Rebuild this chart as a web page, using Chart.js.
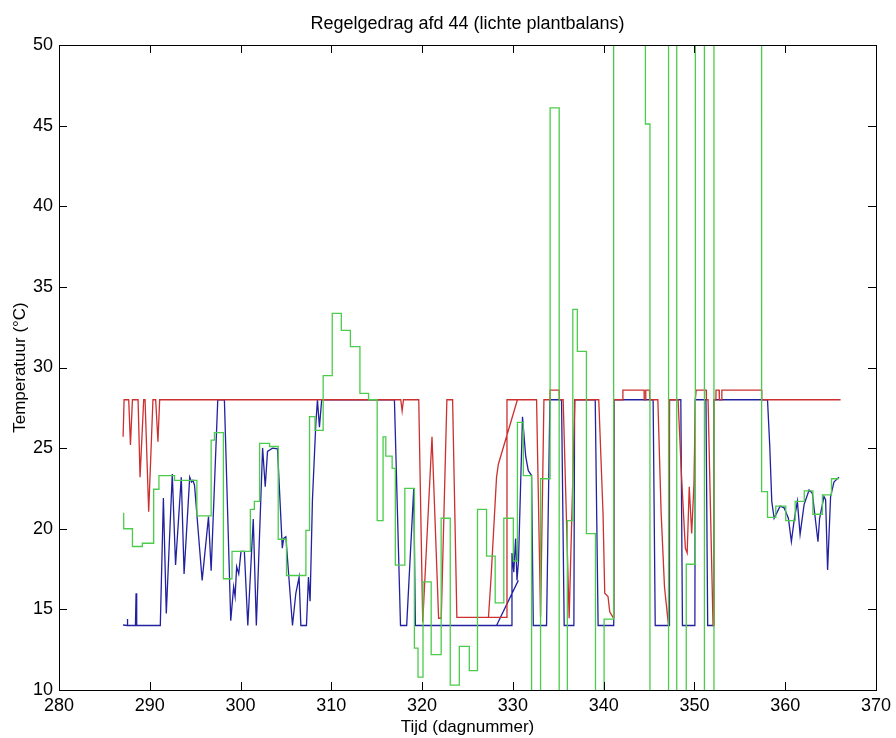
<!DOCTYPE html>
<html>
<head>
<meta charset="utf-8">
<script src="https://cdn.jsdelivr.net/npm/chart.js@4.4.1/dist/chart.umd.min.js"></script>
<style>
html, body { margin: 0; padding: 0; background: #fff; }
#wrap { width: 896px; height: 738px; }
</style>
</head>
<body>
<div id="wrap"><canvas id="regelChart" width="896" height="738"></canvas></div>
<script>
// values (day number, degrees C)
const TITLE = 'Regelgedrag afd 44 (lichte plantbalans)';
const X_TICKS = [280, 290, 300, 310, 320, 330, 340, 350, 360, 370];
const Y_TICKS = [10, 15, 20, 25, 30, 35, 40, 45, 50];

// green: step series (value holds until next day)
const greenDays = [
    287.06, 287.13, 288.09, 289.18, 290.43, 291.01, 292.73, 295.19, 296.76, 297.12,
    298.11, 299.06, 301.08, 301.52, 302.10, 303.20, 304.15, 305.06, 307.20, 307.60,
    308.20, 309.10, 310.10, 311.10, 312.10, 313.15, 314.10, 315.05, 315.70, 316.00,
    316.70, 317.05, 318.10, 319.15, 319.55, 320.10, 321.00, 322.10, 323.10, 324.10,
    325.20, 326.10, 327.10, 328.05, 329.00, 330.05, 330.50, 331.15, 332.06, 333.05,
    334.10, 335.10, 336.00, 336.60, 337.10, 338.10, 339.10, 340.05, 341.10, 344.60,
    345.10, 347.15, 348.05, 349.10, 350.10, 351.10, 352.15, 357.40, 358.05, 358.96,
    360.06, 361.10, 362.10, 363.05, 364.10, 365.10, 365.90
];
const greenTemp = [
    20.95, 20.0, 18.9, 19.1, 22.45, 23.3, 23.0, 20.8, 25.5, 25.96,
    16.9, 18.6, 21.2, 21.7, 25.3, 25.1, 19.35, 17.1, 19.9, 26.95,
    26.1, 29.5, 33.36, 32.3, 31.3, 28.4, 28.0, 20.5, 25.7, 24.5,
    23.75, 17.75, 22.5, 12.6, 10.8, 16.7, 12.2, 20.65, 10.3, 12.7,
    11.2, 21.2, 18.3, 15.4, 20.65, 18.0, 26.6, 23.3, 5, 23.1,
    46.1, 5, 20.5, 33.6, 31.0, 19.7, 5, 14.4, 60, 45.1,
    5, 60, 5, 17.8, 60, 5, 60, 22.3, 20.7, 21.4,
    20.5, 21.7, 22.35, 20.9, 22.1, 23.1, 23.1
];

const redDays = [
    287.06, 287.17, 287.68, 287.87, 288.09, 288.71, 288.93, 289.33, 289.48, 289.88,
    290.35, 290.65, 290.90, 291.09, 317.65, 317.80, 317.95, 319.63, 320.07, 321.09,
    321.82, 322.11, 322.73, 323.36, 323.83, 329.30, 329.35, 332.61, 333.05, 333.42,
    334.08, 334.10, 335.10, 335.12, 335.54, 336.20, 336.83, 339.46, 339.93, 340.12,
    340.48, 340.67, 341.03, 341.12, 342.10, 342.12, 344.45, 344.47, 344.62, 344.64,
    345.05, 345.07, 345.97, 346.33, 346.70, 347.14, 347.25, 348.20, 348.60, 349.00,
    349.20, 349.43, 349.70, 349.95, 350.10, 350.17, 350.19, 351.30, 351.32, 351.50,
    352.05, 352.15, 352.37, 352.38, 352.72, 352.74, 353.00, 353.02, 357.40, 357.42,
    366.10, null, 327.31, 327.60, 327.90, 328.20, 328.40, 330.50
];
const redTemp = [
    25.7, 28, 28, 25.2, 28, 28, 23.2, 28, 28, 21.06,
    28, 28, 25.4, 28, 28, 27.3, 28, 28, 14.2, 25.7,
    14.45, 14.45, 28, 28, 14.5, 14.5, 28, 28, 14.55, 28,
    28, 28.6, 28.6, 28, 28, 14.45, 28, 28, 20.96, 16.0,
    15.8, 14.85, 14.5, 28, 28, 28.6, 28.6, 28, 28, 28.6,
    28.6, 28, 28, 21.0, 16.4, 14.0, 28, 28, 23.0, 18.8,
    18.5, 22.6, 19.7, 22.8, 28, 28, 28.6, 28.6, 28, 28,
    14.0, 28, 28, 28.6, 28.6, 28, 28, 28.6, 28.6, 28,
    28, null, 14.5, 17.0, 20.1, 23.2, 24.0, 28
];

const blueDays = [
    287.06, 287.52, 287.54, 287.56, 288.42, 288.49, 288.56, 291.16, 291.50, 291.82,
    292.48, 292.84, 293.47, 293.78, 294.40, 294.60, 294.75, 294.93, 295.77, 296.47,
    296.76, 297.49, 298.22, 298.92, 299.24, 299.40, 299.57, 299.80, 300.05, 300.42,
    300.80, 301.40, 301.74, 302.43, 302.72, 302.97, 303.52, 304.07, 304.60, 304.75,
    304.99, 305.72, 306.09, 306.45, 306.64, 307.26, 307.48, 307.66, 307.92, 308.29,
    308.47, 308.69, 308.94, 316.95, 317.62, 318.30, 319.08, 319.26, 329.87, 329.90,
    330.10, 330.30, 330.45, 330.62, 331.06, 331.41, 331.70, 332.06, 332.25, 333.71,
    334.08, 335.36, 335.65, 336.72, 336.80, 339.07, 339.39, 341.11, 341.15, 345.45,
    345.68, 347.20, 347.25, 348.50, 348.68, 350.05, 350.10, 351.27, 351.46, 352.05,
    352.12, 358.05, 358.30, 358.52, 358.78, 359.44, 359.88, 360.35, 360.68, 360.98,
    361.34, 361.64, 362.08, 362.63, 362.99, 363.61, 363.79, 364.27, 364.45, 364.67,
    365.00, 365.37, 365.92, null, 328.20, 330.60
];
const blueTemp = [
    14.03, 14.0, 14.4, 14.0, 14.0, 16.0, 14.0, 14.0, 21.9, 14.75,
    23.4, 17.75, 23.2, 17.2, 23.2, 22.9, 23.0, 22.7, 16.8, 20.75,
    17.4, 28, 28, 14.3, 16.4, 15.8, 17.65, 17.2, 18.6, 18.6,
    14.0, 20.6, 14.0, 25.0, 22.6, 24.8, 25.0, 24.95, 18.8, 19.4,
    19.5, 14.0, 16.0, 17.0, 14.0, 14.0, 17.0, 15.5, 21.8, 26.5,
    28, 26.3, 28, 28, 14, 14, 22.5, 14, 14, 18.5,
    17.3, 19.4, 16.8, 18.0, 26.95, 24.5, 23.6, 23.3, 14, 14,
    28, 28, 14, 14, 28, 28, 14, 14, 28, 28,
    14, 14, 28, 28, 14, 14, 28, 28, 14, 14,
    28, 28, 25.1, 21.7, 20.65, 21.4, 21.3, 20.65, 19.2, 20.5,
    21.7, 19.65, 21.5, 22.4, 22.2, 19.2, 20.65, 22.0, 21.8, 17.45,
    22.0, 22.9, 23.2, null, 14, 16.8
];

const TICK_LEN = 8;
const LINE_W = 1.3;
const FONT_FAMILY = "'Liberation Sans', Arial, sans-serif";

function toPoints(days, temps){
    return days.map((d, i) => ({x: d, y: temps[i]}));
}

// matlab style box with inward ticks on all four sides
const frameTicks = {
    id: 'frameTicks',
    afterDatasetsDraw(chart){
        const {ctx, chartArea: a, scales: {x, y}} = chart;
        ctx.save();
        ctx.strokeStyle = '#000';
        ctx.lineWidth = 1;
        ctx.beginPath();
        x.ticks.forEach(t => {
            const px = Math.round(x.getPixelForValue(t.value)) + 0.5;
            ctx.moveTo(px, a.bottom); ctx.lineTo(px, a.bottom - TICK_LEN);
            ctx.moveTo(px, a.top); ctx.lineTo(px, a.top + TICK_LEN);
        });
        y.ticks.forEach(t => {
            const py = Math.round(y.getPixelForValue(t.value)) + 0.5;
            ctx.moveTo(a.left, py); ctx.lineTo(a.left + TICK_LEN, py);
            ctx.moveTo(a.right, py); ctx.lineTo(a.right - TICK_LEN, py);
        });
        ctx.stroke();
        ctx.strokeRect(Math.round(a.left) + 0.5, Math.round(a.top) + 0.5,
                       Math.round(a.width), Math.round(a.height));
        ctx.restore();
    }
};

// title centred over the plot box, not the canvas
const plotTitle = {
    id: 'plotTitle',
    afterDraw(chart){
        const {ctx, chartArea: a} = chart;
        ctx.save();
        ctx.font = '18px ' + FONT_FAMILY;
        ctx.fillStyle = '#000';
        ctx.textAlign = 'center';
        ctx.textBaseline = 'middle';
        ctx.fillText(TITLE, (a.left + a.right) / 2, 24);
        ctx.restore();
    }
};

Chart.defaults.font.family = FONT_FAMILY;
Chart.defaults.color = '#000';

const ctx = document.getElementById('regelChart');
const regelChart = new Chart(ctx, {
    type: 'line',
    data: {
        datasets: [
            {
                label: 'groen',
                data: toPoints(greenDays, greenTemp),
                borderColor: '#4ccc4c',
                borderWidth: LINE_W,
                stepped: true,
                pointRadius: 0,
                fill: false
            },
            {
                label: 'rood',
                data: toPoints(redDays, redTemp),
                borderColor: '#cc3030',
                borderWidth: LINE_W,
                pointRadius: 0,
                fill: false
            },
            {
                label: 'blauw',
                data: toPoints(blueDays, blueTemp),
                borderColor: '#2222a0',
                borderWidth: LINE_W,
                pointRadius: 0,
                fill: false
            }
        ]
    },
    options: {
        responsive: false,
        animation: false,
        devicePixelRatio: 1,
        spanGaps: false,
        layout: { padding: { top: 45, right: 17, left: 0, bottom: 0 } },
        plugins: {
            legend: { display: false },
            tooltip: { enabled: false },
            title: { display: false }
        },
        scales: {
            x: {
                type: 'linear',
                min: 280,
                max: 370,
                afterBuildTicks: scale => { scale.ticks = X_TICKS.map(v => ({value: v})); },
                afterFit: scale => { scale.height = 48; },
                grid: { display: false, drawTicks: false },
                border: { display: false },
                ticks: { font: { size: 18 }, padding: 5, maxRotation: 0 },
                title: {
                    display: true,
                    text: 'Tijd (dagnummer)',
                    font: { size: 17 },
                    padding: { top: 0, bottom: 0 }
                }
            },
            y: {
                type: 'linear',
                min: 10,
                max: 50,
                afterBuildTicks: scale => { scale.ticks = Y_TICKS.map(v => ({value: v})); },
                afterFit: scale => { scale.width = 59; },
                grid: { display: false, drawTicks: false },
                border: { display: false },
                ticks: { font: { size: 18 }, padding: 6 },
                title: {
                    display: true,
                    text: 'Temperatuur (°C)',
                    font: { size: 17 },
                    padding: { top: 10, bottom: 0 }
                }
            }
        }
    },
    plugins: [frameTicks, plotTitle]
});
</script>
</body>
</html>
